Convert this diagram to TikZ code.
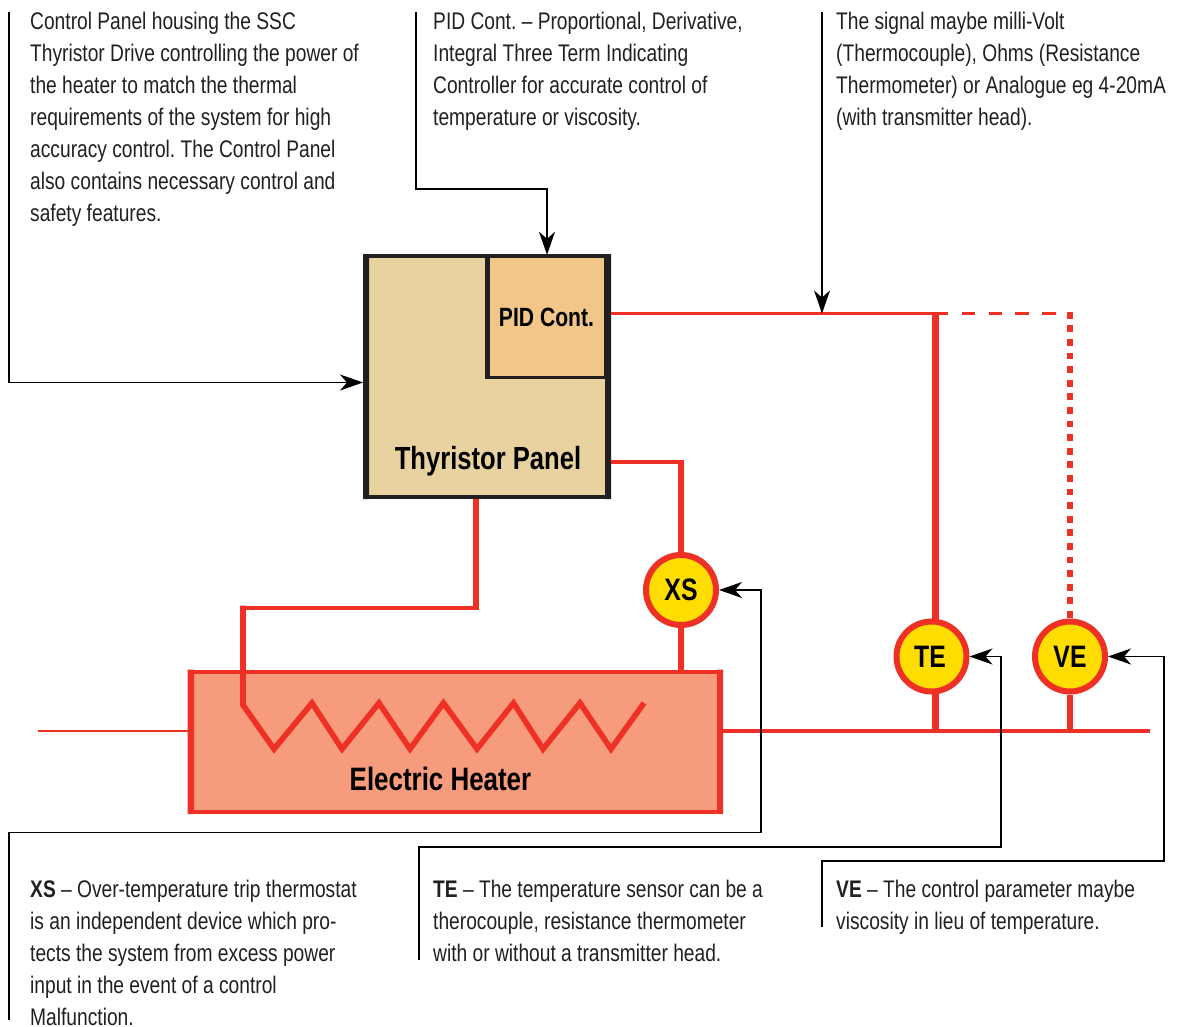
\documentclass[tikz,border=0pt]{standalone}
\usepackage{fontspec}
\setmainfont{Liberation Sans}[FakeStretch=0.8]
\usetikzlibrary{arrows.meta}
\frenchspacing
\definecolor{rd}{HTML}{EE3124}
\definecolor{panelc}{HTML}{E8D3A0}
\definecolor{pidc}{HTML}{F2C688}
\definecolor{heatc}{HTML}{F69B7C}
\definecolor{yel}{HTML}{FFDD00}
\definecolor{ink}{HTML}{231F20}
\tikzset{
 note/.style={anchor=north west,align=left,inner sep=0pt,text=ink,font=\fontsize{24}{32}\selectfont},
 callout/.style={draw=black,line width=1.7pt,-{Stealth[length=23pt,width=16pt,inset=7pt]}},
 red thin/.style={draw=rd,line width=3.6pt},
 red thick/.style={draw=rd,line width=6.2pt},
 instr/.style={circle,draw=rd,fill=yel,line width=6pt,minimum size=70pt,inner sep=0pt,font=\bfseries\fontsize{31}{31}\selectfont},
 biglabel/.style={inner sep=0pt,font=\bfseries\fontsize{32}{32}\selectfont},
}
\begin{document}
\begin{tikzpicture}[x=1pt,y=-1pt]
\useasboundingbox (0,0) rectangle (1184,1026);
% coordinates
\coordinate (a1) at (9,12);
\coordinate (a2) at (416,12);
\coordinate (a3) at (822,12);
\coordinate (b1) at (9,1020);
\coordinate (b2) at (419,960);
\coordinate (b3) at (822,927);
\coordinate (pipeL) at (38,731);
\coordinate (pipeR) at (1150,731);
% panel
\node[draw=ink,fill=panelc,line width=4pt,minimum width=244pt,minimum height=241pt,inner sep=0pt] (panel) at (487,376.5) {};
\fill[ink] (363,254) rectangle (369,499) (605,254) rectangle (611,499);
\node[draw=ink,fill=pidc,line width=3.4pt,minimum width=118pt,minimum height=121pt,inner sep=0pt] (pid) at (547,317) {};
\fill[ink] (485,255) rectangle (490,379);
\fill[ink] (605,254) rectangle (611,499);
\node[biglabel,font=\bfseries\fontsize{26.4}{27}\selectfont] (pidt) at (546.5,317) {PID Cont.};
\node[biglabel] (panelt) at (488,461.5) {Thyristor Panel};
% heater
\node[draw=rd,fill=heatc,line width=4.4pt,minimum width=531pt,minimum height=140pt,inner sep=0pt] (heater) at (455.3,741.8) {};
\fill[rd] (187.6,669.6) rectangle (194,814) (717,669.6) rectangle (723,814);
\node[biglabel,font=\bfseries\fontsize{32.4}{33}\selectfont] (heatert) at (440.5,779) {Electric Heater};
% instruments
\node[instr] (xs) at (681,590) {XS};
\node[instr] (te) at (931.5,656.5) {\hspace{-3pt}TE};
\node[instr] (ve) at (1070,656.5) {VE};
% junctions
\coordinate (j1) at (822,313.5);
\coordinate (j2) at (935.5,313.5);
\coordinate (j3) at (1070,313.5);
% red wiring
\draw[draw=rd,line width=2.4pt] (pipeL) -- (heater.west |- pipeL);
\draw[red thin] (723,731) -- (pipeR);
\draw[red thin] (611,313.5) -- (948,313.5);
\draw[red thick] (j2) -- (935.5,622);
\draw[red thick] (935.5,692) -- (935.5,731);
\draw[red thick] (ve.south) -- (ve.south |- pipeR);
\draw[draw=rd,line width=3.6pt,dash pattern=on 13.4pt off 13.3pt] (962,313.5) -- (j3);
\draw[draw=rd,line width=6.2pt,dash pattern=on 6.8pt off 6.8pt] (1070,311.7) -- (ve.north);
\draw[red thin] (611,462) -- (681,462);
\draw[red thick] (681,460.2) -- (xs.north);
\draw[red thick] (xs.south) -- (681,670);
\draw[red thick] (476,499) -- (476,609.5);
\draw[draw=rd,line width=4pt] (479,607.5) -- (240,607.5);
\draw[draw=rd,line width=5.6pt,line join=miter,miter limit=10] (243,605.5) -- (243,705) -- (274,749) -- (312,703) -- (342,749) -- (379,703) -- (410,749) -- (443.5,703) -- (477,749) -- (513.5,703) -- (543,749) -- (580,703) -- (611,749) -- (644,703);
% callouts
\draw[callout] (a1) |- (panel.west |- 0,382.5);
\draw[callout] (a2) |- (547,189) -- (pid.north);
\draw[callout] (a3) -- (j1);
\draw[callout] (b1) |- (761,832.5) |- (xs.east);
\draw[callout] (b2) |- (1001,847) |- (te.east);
\draw[callout] (b3) |- (1164,861) |- (ve.east);
% notes
\node[note] (n1) at (30,12) {Control Panel housing the SSC\\Thyristor Drive controlling the power of\\the heater to match the thermal\\requirements of the system for high\\accuracy control. The Control Panel\\also contains necessary control and\\safety features.};
\node[note] (n2) at (433,12) {PID Cont. -- Proportional, Derivative,\\Integral Three Term Indicating\\Controller for accurate control of\\temperature or viscosity.};
\node[note] (n3) at (836,12) {The signal maybe milli-Volt\\(Thermocouple), Ohms (Resistance\\Thermometer) or Analogue eg 4-20mA\\(with transmitter head).};
\node[note] (n4) at (30,880) {\textbf{XS} -- Over-temperature trip thermostat\\is an independent device which pro-\\tects the system from excess power\\input in the event of a control\\Malfunction.};
\node[note] (n5) at (433,880) {\textbf{TE} -- The temperature sensor can be a\\therocouple, resistance thermometer\\with or without a transmitter head.};
\node[note] (n6) at (836,880) {\textbf{VE} -- The control parameter maybe\\viscosity in lieu of temperature.};
\end{tikzpicture}
\end{document}
